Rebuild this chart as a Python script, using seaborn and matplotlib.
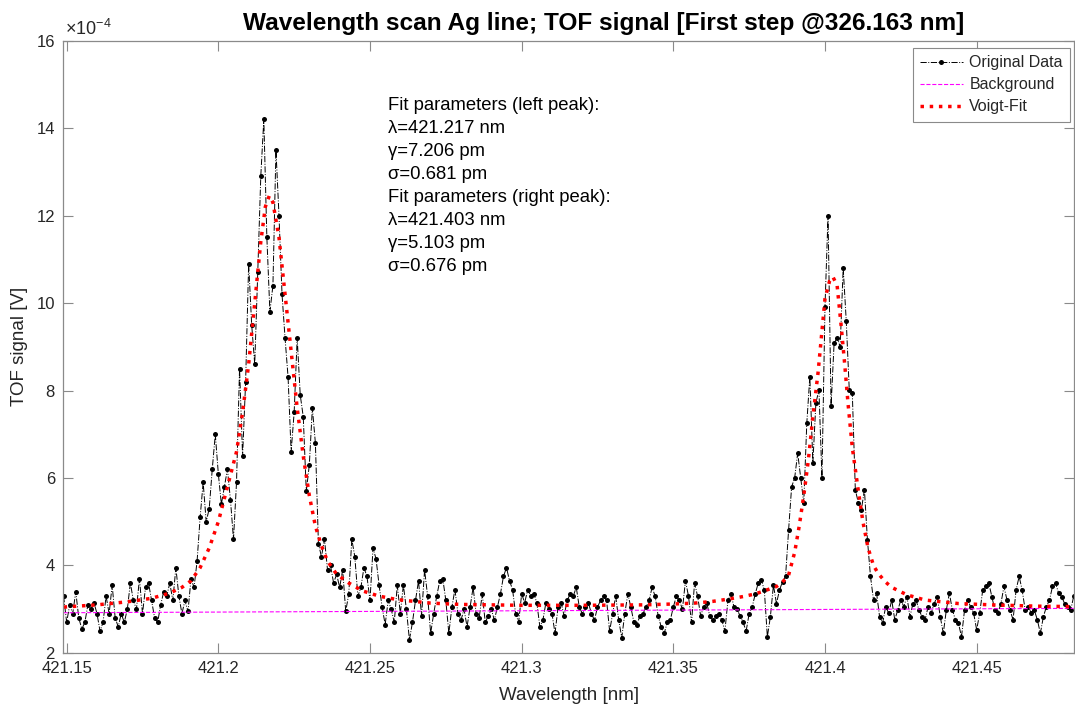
import numpy as np
import matplotlib
matplotlib.use('Agg')
import matplotlib.pyplot as plt
from matplotlib.ticker import FuncFormatter
import seaborn as sns

sns.set_theme(style='white')
plt.rcParams['font.family'] = ['Liberation Sans', 'DejaVu Sans']
plt.rcParams['mathtext.fontset'] = 'custom'
plt.rcParams['mathtext.rm'] = 'Liberation Sans'
plt.rcParams['mathtext.it'] = 'Liberation Sans:italic'

# ---------------- data (TOF signal in units of 1e-4 V) ----------------
wl_start = 421.149
wl_step = 0.001
signal_e4 = [
    3.3, 2.7, 3.1, 2.9, 3.4, 2.8, 2.55, 2.7, 3.1, 3.0,
    3.15, 2.9, 2.5, 2.7, 3.3, 2.9, 3.55, 2.8, 2.6, 2.9,
    2.7, 3.0, 3.6, 3.2, 3.0, 3.7, 2.9, 3.5, 3.6, 3.2,
    2.8, 2.7, 3.1, 3.4, 3.3, 3.6, 3.2, 3.95, 3.3, 2.9,
    3.2, 2.95, 3.7, 3.5,
    4.1, 5.1, 5.9, 5.0, 5.3, 6.2, 7.0, 6.1, 5.4, 5.8,
    6.2, 5.5, 4.6, 5.9, 8.5, 6.5, 8.2, 10.9, 9.5, 8.6,
    10.7, 12.9, 14.2, 11.5, 9.8, 10.4, 13.5, 12.0, 10.2, 9.2,
    8.3, 6.6, 7.5, 9.2, 7.9, 7.4, 5.7, 6.3, 7.6, 6.8,
    4.5, 4.2, 4.6, 3.9, 4.0, 3.6,
    3.8, 3.5, 3.9, 2.95, 3.35, 4.6, 4.2, 3.3, 3.5, 3.95,
    3.75, 3.2, 4.4, 4.15, 3.55, 3.05, 2.65, 3.2, 3.0, 2.7,
    3.55, 2.9, 3.55, 3.0, 2.3, 2.7, 3.2, 3.65, 2.85, 3.9,
    3.3, 2.45, 2.9, 3.3, 3.65, 3.7, 3.2, 2.45, 3.05, 3.45,
    2.9, 2.75, 3.0, 2.6, 3.05, 3.5, 2.9, 2.8, 3.35, 2.7,
    2.85, 3.0, 2.75, 3.05, 3.35, 3.75, 3.95, 3.65, 3.45, 2.9,
    2.7, 3.35, 3.15, 3.45, 3.3, 3.35, 3.15, 2.6, 2.75, 3.15,
    3.0, 2.9, 2.45, 3.05, 3.15, 2.85, 3.2, 3.35, 3.3, 3.5,
    3.05, 2.9, 3.05, 3.15, 2.9, 2.75, 3.05, 3.2, 3.3, 3.2,
    2.5, 2.9, 3.3, 2.75, 2.35, 2.9, 3.35, 3.05, 2.7, 2.65,
    2.85, 2.9, 3.05, 3.2, 3.5, 3.3, 2.85, 2.6, 2.45, 2.7,
    2.75, 3.05, 3.3, 3.2, 3.0, 3.65, 3.3, 2.7, 3.6, 3.3,
    2.85, 3.05, 3.15, 2.85, 2.75, 2.85, 2.9, 2.75, 2.5, 3.2,
    3.35, 3.05, 3.0, 2.85, 2.7, 2.5, 2.9, 3.05, 3.35, 3.6,
    3.67, 3.44, 2.37, 2.83, 3.55, 3.13, 3.44, 3.63, 3.75, 4.81,
    5.8, 6.0, 6.57, 6.0, 5.43, 7.25, 8.32, 6.35, 7.71, 8.02,
    6.0, 9.92, 12.0, 7.64, 9.08, 9.2, 9.0, 10.8, 9.6, 8.02,
    7.95, 5.73, 5.43, 5.28, 5.73, 4.58, 3.75, 3.21, 3.37, 2.83,
    2.68, 3.06, 2.91, 3.21, 2.76, 2.98, 3.21, 3.06, 3.29, 2.83,
    3.13, 3.21, 2.98, 2.83, 2.76, 3.06, 2.91, 3.13, 3.29, 2.83,
    2.45, 2.98, 3.37, 2.98, 2.76, 2.68, 2.37, 2.98, 3.21, 3.06,
    2.91, 2.53, 2.91, 3.44, 3.52, 3.6, 3.29, 2.98, 2.91, 3.13,
    3.52, 3.21, 2.98, 2.76, 3.44, 3.75, 3.44, 2.98, 3.06, 2.91,
    2.98, 2.76, 2.45, 2.83, 3.06, 3.21, 3.52, 3.6, 3.37, 3.29,
    3.13, 3.06, 2.98, 3.3,
]

bg_wl = [421.149, 421.482]
bg_e4 = [2.92, 3.02]

fit_wl = [421.149, 421.160, 421.170, 421.178, 421.184, 421.188, 421.191, 421.194,
          421.197, 421.200, 421.203, 421.206, 421.208, 421.210, 421.212, 421.214,
          421.2155, 421.2168, 421.218, 421.220, 421.222, 421.224, 421.226, 421.228,
          421.230, 421.232, 421.234, 421.236, 421.239, 421.243, 421.2475, 421.253,
          421.259, 421.270, 421.280, 421.290, 421.300, 421.320, 421.340, 421.350,
          421.357, 421.363, 421.368, 421.373, 421.377, 421.380, 421.384, 421.386,
          421.388, 421.390, 421.3915, 421.393, 421.3945, 421.396, 421.3977, 421.400,
          421.4015, 421.4026, 421.404, 421.4053, 421.4065, 421.4076, 421.409, 421.411,
          421.4125, 421.4142, 421.416, 421.4175, 421.420, 421.422, 421.427, 421.433,
          421.444, 421.455, 421.470, 421.482]
fit_e4 = [3.05, 3.10, 3.17, 3.25, 3.37, 3.50, 3.65, 3.95,
          4.40, 5.00, 5.80, 6.60, 7.50, 8.60, 10.0, 11.4,
          12.2, 12.45, 12.3, 11.5, 10.2, 8.9, 7.6, 6.5,
          5.6, 4.9, 4.45, 4.1, 3.8, 3.6, 3.42, 3.3,
          3.22, 3.14, 3.11, 3.10, 3.09, 3.09, 3.10, 3.12,
          3.14, 3.18, 3.23, 3.29, 3.35, 3.42, 3.52, 3.62,
          3.78, 4.3, 4.9, 5.6, 6.4, 7.4, 8.4, 10.1,
          10.5, 10.6, 10.4, 9.5, 8.6, 7.7, 6.7, 5.7,
          5.0, 4.4, 4.0, 3.82, 3.62, 3.5, 3.33, 3.21,
          3.13, 3.1, 3.07, 3.06]

x_ticks = [421.15, 421.2, 421.25, 421.3, 421.35, 421.4, 421.45]
x_tick_labels = ['421.15', '421.2', '421.25', '421.3', '421.35', '421.4', '421.45']
y_ticks_e4 = [2, 4, 6, 8, 10, 12, 14, 16]

fit_text = ("Fit parameters (left peak):\n"
            "\u03bb=421.217 nm\n"
            "\u03b3=7.206 pm\n"
            "\u03c3=0.681 pm\n"
            "Fit parameters (right peak):\n"
            "\u03bb=421.403 nm\n"
            "\u03b3=5.103 pm\n"
            "\u03c3=0.676 pm")

# ---------------- plot ----------------
wavelength = wl_start + wl_step * np.arange(len(signal_e4))
signal = np.array(signal_e4) * 1e-4

fig = plt.figure(figsize=(10.75, 7.09), dpi=100)
ax = fig.add_axes([0.0589, 0.079, 0.9402, 0.8638])

sns.lineplot(x=wavelength, y=signal, ax=ax, color='black', linestyle='-.',
             linewidth=0.7, marker='o', markersize=3.6, markeredgewidth=0,
             label='Original Data', estimator=None, sort=False)
sns.lineplot(x=bg_wl, y=np.array(bg_e4) * 1e-4, ax=ax, color='#ff00ff',
             linestyle='--', linewidth=0.8, label='Background',
             estimator=None, sort=False)
sns.lineplot(x=fit_wl, y=np.array(fit_e4) * 1e-4, ax=ax, color='#ff0000',
             linestyle=':', linewidth=2.5, label='Voigt-Fit',
             estimator=None, sort=False)

ax.set_xlim(421.1489, 421.4821)
ax.set_ylim(2e-4, 16e-4)
ax.set_xticks(x_ticks)
ax.set_xticklabels(x_tick_labels)
ax.set_yticks([v * 1e-4 for v in y_ticks_e4])
ax.yaxis.set_major_formatter(FuncFormatter(lambda v, p: f"{v * 1e4:.0f}"))

spine_col = '#8a8a8a'
for s in ax.spines.values():
    s.set_visible(True)
    s.set_color(spine_col)
    s.set_linewidth(0.9)
ax.tick_params(axis='both', which='major', direction='in', length=7, width=0.8,
               color=spine_col, labelcolor='#262626', labelsize=12,
               top=True, right=True, bottom=True, left=True, pad=6)

ax.set_xlabel('Wavelength [nm]', fontsize=13.5, color='#262626', labelpad=8)
ax.set_ylabel('TOF signal [V]', fontsize=13.5, color='#262626', labelpad=6)
fig.text(0.5614, 0.967,
         'Wavelength scan Ag line; TOF signal [First step @326.163 nm]',
         fontsize=17.6, fontweight='bold', color='black', ha='center', va='center')

ax.text(0.002, 1.003, r'$\times10^{-4}$', transform=ax.transAxes,
        fontsize=13, color='#262626', ha='left', va='bottom')

ax.text(0.3213, 0.908, fit_text, transform=ax.transAxes, fontsize=13.3,
        color='black', ha='left', va='top', linespacing=1.46)

leg = ax.legend(loc='upper right', bbox_to_anchor=(0.996, 0.988),
                borderaxespad=0, fontsize=11.5, frameon=True, fancybox=False,
                framealpha=1, edgecolor='#8a8a8a', handlelength=2.7,
                handletextpad=0.4, borderpad=0.45, labelspacing=0.45)
leg.get_frame().set_linewidth(0.8)

fig.savefig('out.png', dpi=100, facecolor='white')
